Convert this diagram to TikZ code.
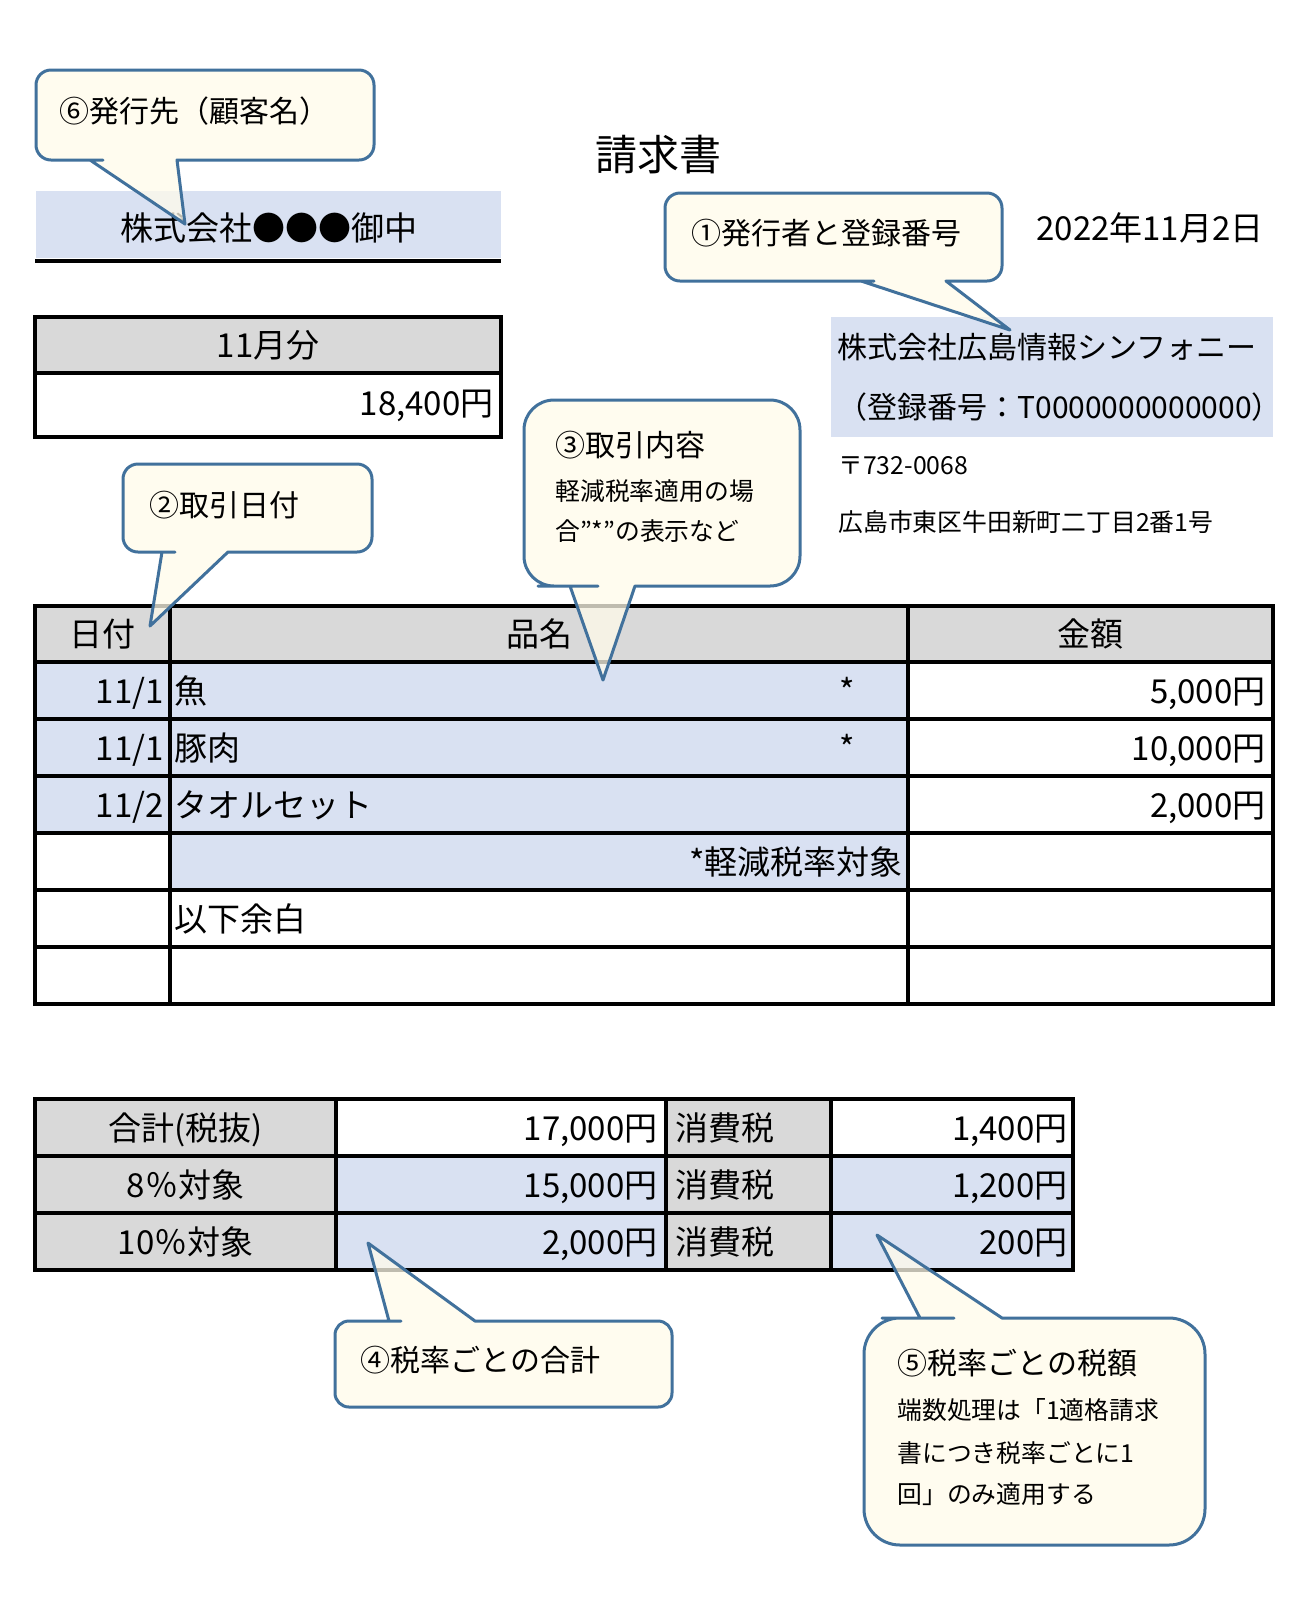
\documentclass[tikz,border=0pt]{standalone}
\usepackage{fontspec}
\setmainfont{Noto Sans CJK JP}
\usepackage{xcolor}
\usepackage{tikz}
\definecolor{cellblue}{HTML}{D9E1F2}
\definecolor{cellgray}{HTML}{D9D9D9}
\definecolor{noteline}{HTML}{41719C}
\definecolor{notefill}{HTML}{FFFBEA}
\tikzstyle{rule}=[line width=1.6pt, black]
\tikzstyle{txt}=[inner sep=0pt, font=\fontsize{16.5pt}{20pt}\selectfont,% table text
text height=14.5pt, text depth=2pt]
\tikzstyle{note}=[inner sep=0pt, font=\fontsize{15pt}{18pt}\selectfont,
text height=13.2pt, text depth=1.8pt]
\tikzstyle{memo}=[inner sep=0pt, font=\fontsize{12.4pt}{15pt}\selectfont,
text height=10.9pt, text depth=1.5pt]
\tikzstyle{bubble}=[draw=noteline, fill=notefill, fill opacity=0.75, line width=1.5pt, line join=round]

\begin{document}
\begin{tikzpicture}[x=0.5pt, y=-0.5pt]
\useasboundingbox (0,0) rectangle (1316,1608);
\fill[white] (0,0) rectangle (1316,1608);
% head
\node[txt, font=\fontsize{21pt}{24pt}\selectfont, text height=18.5pt, text depth=2.5pt] (title) at (658,154) {請求書};
\fill[cellblue] (36,191) rectangle (501,258);
\draw[rule] (35,261) -- (501,261);
\node[txt] (cust) at (269,228) {株式会社●●●御中};
\fill[cellgray] (35,317) rectangle (501,373);
\draw[rule] (35,317) rectangle (501,437);
\draw[rule] (35,373) -- (501,373);
\node[txt] (month) at (268,345) {11月分};
\node[txt, anchor=east] (total) at (494,403) {18,400円};
\node[txt, anchor=west] (date) at (1036,228) {2022年11月2日};
\fill[cellblue] (831,317) rectangle (1273,437);
\node[note, anchor=west] (issuer) at (837,347) {株式会社広島情報シンフォニー};
\node[note, anchor=west] (regno) at (837,407) {（登録番号：T0000000000000）};
\node[memo, anchor=west] (zip) at (838,465) {〒732-0068};
\node[memo, anchor=west] (addr) at (838,522) {広島市東区牛田新町二丁目2番1号};
% items
\fill[cellgray] (35,606) rectangle (1273,662);
\fill[cellblue] (35,662) rectangle (908,833);
\fill[cellblue] (170,833) rectangle (908,890);
\draw[rule] (35,606) rectangle (1273,1004);
\draw[rule] (35,662) -- (1273,662) (35,719) -- (1273,719) (35,776) -- (1273,776)
  (35,833) -- (1273,833) (35,890) -- (1273,890) (35,947) -- (1273,947)
  (170,606) -- (170,1004) (908,606) -- (908,1004);
\node[txt] (hdate) at (102,634) {日付};
\node[txt] (hitem) at (539,634) {品名};
\node[txt] (hsum) at (1090,634) {金額};
\node[txt, anchor=east] (d1) at (164,690.5) {11/1};
\node[txt, anchor=east] (d2) at (164,747.5) {11/1};
\node[txt, anchor=east] (d3) at (164,804.5) {11/2};
\node[txt, anchor=west] (i1) at (174,690.5) {魚};
\node[txt, anchor=west] (i2) at (174,747.5) {豚肉};
\node[txt, anchor=west] (i3) at (174,804.5) {タオルセット};
\node[txt] (s1) at (847,690.5) {*};
\node[txt] (s2) at (847,747.5) {*};
\node[txt, anchor=east] (a1) at (1266,690.5) {5,000円};
\node[txt, anchor=east] (a2) at (1266,747.5) {10,000円};
\node[txt, anchor=east] (a3) at (1266,804.5) {2,000円};
\node[txt, anchor=east] (mark) at (903,861.5) {*軽減税率対象};
\node[txt, anchor=west] (blank) at (174,918.5) {以下余白};
% sums
\fill[cellgray] (35,1099) rectangle (336,1270);
\fill[cellgray] (666,1099) rectangle (831,1270);
\fill[cellblue] (336,1156) rectangle (666,1270);
\fill[cellblue] (831,1156) rectangle (1073,1270);
\draw[rule] (35,1099) rectangle (1073,1270);
\draw[rule] (35,1156) -- (1073,1156) (35,1213) -- (1073,1213)
  (336,1099) -- (336,1270) (666,1099) -- (666,1270) (831,1099) -- (831,1270);
\node[txt] (net) at (185.5,1127.5) {合計(税抜)};
\node[txt] (r8) at (185.5,1184.5) {8％対象};
\node[txt] (r10) at (185.5,1241.5) {10％対象};
\node[txt, anchor=east] (net0) at (658,1127.5) {17,000円};
\node[txt, anchor=east] (net8) at (658,1184.5) {15,000円};
\node[txt, anchor=east] (net10) at (658,1241.5) {2,000円};
\node[txt, anchor=west] (tx0) at (675,1127.5) {消費税};
\node[txt, anchor=west] (tx8) at (675,1184.5) {消費税};
\node[txt, anchor=west] (tx10) at (675,1241.5) {消費税};
\node[txt, anchor=east] (tax0) at (1068,1127.5) {1,400円};
\node[txt, anchor=east] (tax8) at (1068,1184.5) {1,200円};
\node[txt, anchor=east] (tax10) at (1068,1241.5) {200円};
% callouts
\coordinate (p6) at (185,224);
\coordinate (p1) at (1010,330);
\coordinate (p2) at (150,626);
\coordinate (p3) at (603,680);
\coordinate (p4) at (368,1243);
\coordinate (p5) at (877,1235);
\filldraw[bubble] (179,160) [rounded corners=7.5pt] -- (374,160) -- (374,70) -- (36,70) -- (36,160) -- (88,160) [sharp corners] -- (90,160) -- (p6) -- (177,160) -- cycle;
\filldraw[bubble] (948,281) [rounded corners=7.5pt] -- (1002,281) -- (1002,193) -- (665,193) -- (665,281) -- (859,281) [sharp corners] -- (861,281) -- (p1) -- (946,281) -- cycle;
\filldraw[bubble] (230,552) [rounded corners=7.5pt] -- (372,552) -- (372,464) -- (123,464) -- (123,552) -- (160,552) [sharp corners] -- (162,552) -- (p2) -- (228,552) -- cycle;
\filldraw[bubble] (637,586) [rounded corners=15pt] -- (800,586) -- (800,400) -- (524,400) -- (524,586) -- (568,586) [sharp corners] -- (570,586) -- (p3) -- (635,586) -- cycle;
\filldraw[bubble] (477,1321) [rounded corners=7pt] -- (672,1321) -- (672,1407) -- (335,1407) -- (335,1321) -- (387,1321) [sharp corners] -- (389,1321) -- (p4) -- (475,1321) -- cycle;
\filldraw[bubble] (1004,1318) [rounded corners=18pt] -- (1205,1318) -- (1205,1545) -- (864,1545) -- (864,1318) -- (918,1318) [sharp corners] -- (920,1318) -- (p5) -- (1002,1318) -- cycle;
\node[note, anchor=west] (c6) at (59,111) {⑥発行先（顧客名）};
\node[note, anchor=west] (c1) at (691,233) {①発行者と登録番号};
\node[note, anchor=west] (c2) at (149,505) {②取引日付};
\node[note, anchor=west] (c3) at (555,445) {③取引内容};
\node[memo, anchor=west] (c3a) at (555,491) {軽減税率適用の場};
\node[memo, anchor=west] (c3b) at (555,531) {合”*”の表示など};
\node[note, anchor=west] (c4) at (360,1360) {④税率ごとの合計};
\node[note, anchor=west] (c5) at (897,1363) {⑤税率ごとの税額};
\node[memo, anchor=west] (c5a) at (897,1410) {端数処理は「1適格請求};
\node[memo, anchor=west] (c5b) at (897,1453) {書につき税率ごとに1};
\node[memo, anchor=west] (c5c) at (897,1494) {回」のみ適用する};
\end{tikzpicture}
\end{document}
